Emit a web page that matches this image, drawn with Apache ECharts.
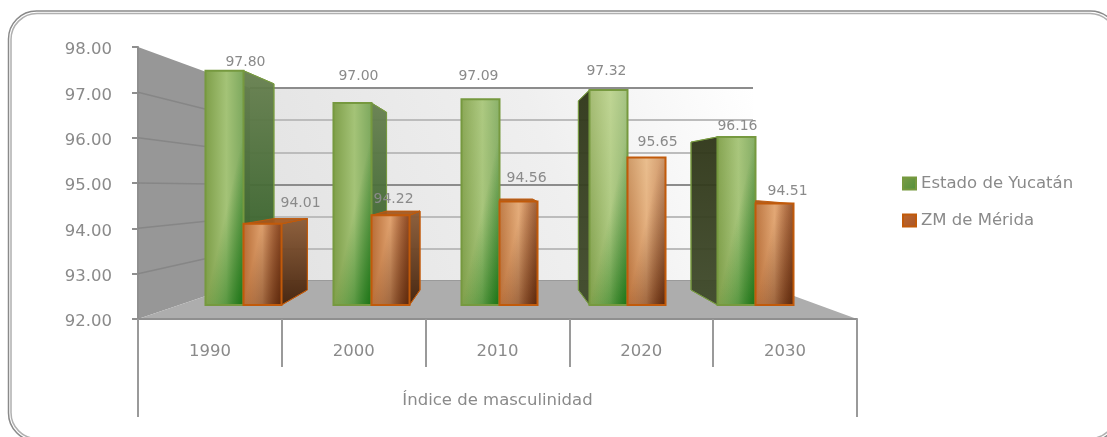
<!DOCTYPE html>
<html>
<head>
  <meta charset="UTF-8">
  <title>Índice de masculinidad</title>
  <style type="text/css">
    *{margin:0;padding:0;box-sizing:border-box;}
    html,body{width:100%;height:100%;background:#fff;overflow:hidden;}
    #main{width:1107px;height:437px;}
  </style>
  <script type="text/javascript" src="https://cdn.jsdelivr.net/npm/echarts@6/dist/echarts.min.js"></script>
</head>
<body>
  <div id="main"></div>
  <script type="text/javascript">
    var categories = ['1990', '2000', '2010', '2020', '2030'];
    var groupLabel = ['Índice de masculinidad'];
    var yucatan = [97.80, 97.00, 97.09, 97.32, 96.16];
    var merida = [94.01, 94.22, 94.56, 95.65, 94.51];
    var yMin = 92, yMax = 98;

    // labels were moved by hand in the original, so each has its own nudge (from bar top centre)
    var yucatanNudge = [[21, -8], [6, -27], [-2, -23], [-2, -19], [1, -11]];
    var meridaNudge = [[38, -20], [3, -16], [8, -23], [11, -15], [13, -12]];
    // bars get lighter towards 2020 in the original
    var sheen = [0, 0, 0.1, 0.3, 0.06];

    var textColor = '#8a8a8a';
    var fontName = '"DejaVu Sans", sans-serif';

    // vanishing point and depth of the fake 3D boxes
    var vx = 497, vy = 180, depth = 0.88;
    function back(p){
      return [vx + (p[0] - vx) * depth, vy + (p[1] - vy) * depth];
    }
    function grad(x, y, x2, y2, stops, global){
      return new echarts.graphic.LinearGradient(x, y, x2, y2, stops.map(function(s){
        return {offset: s[0], color: s[1]};
      }), global);
    }

    var styles = [
      {
        base: grad(0, 0, 1, 0, [[0, '#7f9f4a'], [0.55, '#a4c377'], [1, '#7da85e']]),
        shade: [[0, 'rgba(25,115,20,0)'], [1, 'rgba(25,115,20,1)']],
        stroke: '#76993f',
        right: grad(0, 0, 0, 1, [[0, '#667f4e'], [1, '#27581f']]),
        left: grad(0, 0, 0, 1, [[0, '#2e3517'], [1, '#404b2b']]),
        top: '#8aa85c',
        legend: grad(0, 0, 1, 1, [[0, '#7d9c47'], [1, '#4f8f3a']])
      },
      {
        base: grad(0, 0, 1, 0, [[0, '#b86e38'], [0.5, '#e0a26f'], [1, '#b8683a']]),
        shade: [[0, 'rgba(85,35,8,0)'], [1, 'rgba(85,35,8,0.95)']],
        stroke: '#c15a0a',
        right: grad(0, 0, 0, 1, [[0, '#8a5a35'], [1, '#43210a']]),
        left: grad(0, 0, 0, 1, [[0, '#8a5a35'], [1, '#43210a']]),
        top: '#a4581f',
        legend: grad(0, 0, 1, 1, [[0, '#c0682a'], [1, '#a8552a']])
      }
    ];

    function boxRenderer(seriesIndex, nudges){
      var st = styles[seriesIndex];
      return function(params, api){
        var idx = api.value(0);
        var base = api.coord([idx, yMin]);
        var top = api.coord([idx, api.value(1)]);
        var w = api.size([1, 0])[0] * 0.297;
        var x0 = seriesIndex === 0 ? base[0] - w : base[0];
        var x1 = x0 + w;
        var h = base[1] - top[1];
        var tl = [x0, top[1]], tr = [x1, top[1]], bl = [x0, base[1]], br = [x1, base[1]];
        var kids = [];
        function face(points, fill){
          kids.push({type: 'polygon', shape: {points: points},
            style: {fill: fill, stroke: st.stroke, lineWidth: 1, opacity: 0.95}});
        }
        function cover(fill, lineWidth){
          kids.push({type: 'rect', shape: {x: x0, y: top[1], width: w, height: h},
            style: {fill: fill, stroke: lineWidth ? st.stroke : 'none', lineWidth: lineWidth}});
        }
        if(x1 < vx){
          face([tr, back(tr), back(br), br], st.right);
        }
        if(seriesIndex === 0 && x0 > vx){
          face([tl, back(tl), back(bl), bl], st.left);
        }
        if(top[1] > vy){
          // the green neighbour hides whatever lies behind the left edge
          var bl2 = back(tl);
          if(seriesIndex === 1 && x0 > vx){
            bl2 = [x0, bl2[1]];
          }
          face([tl, tr, back(tr), bl2], st.top);
        }
        cover(st.base, 0);
        // dark corner at the bottom right, running up along the right edge
        var sx = x0, ex = x1 + w * 0.02, dy = 0.22;
        var len = (ex - sx) / (1 + dy * dy);
        cover(grad(sx, base[1], sx + len, base[1] + len * dy, st.shade, true), 0);
        if(sheen[idx]){
          cover(grad(0, 0, 0, 1, [[0, 'rgba(255,255,215,' + sheen[idx] + ')'], [1, 'rgba(255,255,215,0)']]), 0);
        }
        cover('none', 2);
        var n = nudges[idx];
        kids.push({type: 'text', z2: 10, style: {
          text: api.value(1).toFixed(2),
          x: (x0 + x1) / 2 + n[0], y: top[1] + n[1],
          align: 'center', verticalAlign: 'middle',
          fill: textColor, font: '14px ' + fontName
        }});
        return {type: 'group', children: kids};
      };
    }

    var myChart = echarts.init(document.getElementById('main'));
    var option = {
      animation: false,
      backgroundColor: '#fff',
      legend: {
        data: ['Estado de Yucatán', 'ZM de Mérida'],
        orient: 'vertical',
        left: 902,
        top: 175,
        padding: 0,
        icon: 'rect',
        itemWidth: 13,
        itemHeight: 12,
        itemGap: 20,
        selectedMode: false,
        textStyle: {color: textColor, fontSize: 16.5, fontFamily: fontName}
      },
      grid: [
        {left: 138, top: 47, width: 719, height: 272},                 // front frame with the axes
        {left: 250, top: 88, width: 503, height: 193, show: true, borderWidth: 0,
         backgroundColor: grad(0, 1, 1, 0, [[0, '#e2e2e2'], [0.6, '#efefef'], [1, '#ffffff']])}, // back wall
        {left: 179.5, top: 62.6, width: 640, height: 242.4}            // plane of the bars
      ],
      xAxis: [
        {gridIndex: 0, type: 'category', data: categories,
         axisLine: {lineStyle: {color: '#8f8f8f', width: 2}},
         axisTick: {show: true, alignWithLabel: false, length: 48, lineStyle: {color: '#9a9a9a', width: 2}},
         axisLabel: {color: textColor, fontSize: 16.5, fontFamily: fontName, margin: 24}},
        {gridIndex: 0, type: 'category', data: groupLabel, position: 'bottom',
         axisLine: {show: false},
         axisTick: {show: true, length: 98, lineStyle: {color: '#9a9a9a', width: 2}},
         axisLabel: {color: textColor, fontSize: 16.5, fontFamily: fontName, margin: 73}},
        {gridIndex: 1, type: 'category', data: categories, show: false},
        {gridIndex: 2, type: 'category', data: categories, show: false}
      ],
      yAxis: [
        {gridIndex: 0, type: 'value', min: yMin, max: yMax, interval: 1,
         axisLine: {show: true, lineStyle: {color: '#8f8f8f', width: 2}},
         axisTick: {show: true, length: 6, lineStyle: {color: '#8f8f8f', width: 2}},
         axisLabel: {color: textColor, fontSize: 16.5, fontFamily: fontName, margin: 26,
           verticalAlign: 'top', lineHeight: 6,
           formatter: function(v){ return v.toFixed(2); }},
         splitLine: {show: false}},
        {gridIndex: 1, type: 'value', min: yMin, max: yMax, interval: 1,
         axisLine: {show: false}, axisTick: {show: false}, axisLabel: {show: false},
         splitLine: {show: true, lineStyle: {width: 2,
           color: ['#9a9a9a', '#bcbcbc', '#bcbcbc', '#8c8c8c', '#bcbcbc', '#bcbcbc', '#8c8c8c']}}},
        {gridIndex: 2, type: 'value', min: yMin, max: yMax, show: false, splitLine: {show: false}}
      ],
      series: [
        {name: 'Estado de Yucatán', type: 'custom', xAxisIndex: 3, yAxisIndex: 2, clip: false, z: 3,
         itemStyle: {color: styles[0].legend, borderColor: styles[0].stroke, borderWidth: 1},
         renderItem: boxRenderer(0, yucatanNudge),
         data: yucatan.map(function(v, i){ return [i, v]; })},
        {name: 'ZM de Mérida', type: 'custom', xAxisIndex: 3, yAxisIndex: 2, clip: false, z: 4,
         itemStyle: {color: styles[1].legend, borderColor: styles[1].stroke, borderWidth: 1},
         renderItem: boxRenderer(1, meridaNudge),
         data: merida.map(function(v, i){ return [i, v]; })}
      ]
    };
    myChart.setOption(option);

    // side wall, floor and the outer frame hang off the grids already laid out
    function wallPoint(gridIndex, yAxisIndex, xFrac, v){
      var y = myChart.convertToPixel({yAxisIndex: yAxisIndex}, v);
      var rect = myChart.getModel().getComponent('grid', gridIndex).coordinateSystem.getRect();
      return [rect.x + rect.width * xFrac, y];
    }
    var wallItems = [];
    var fTop = wallPoint(0, 0, 0, yMax), fBot = wallPoint(0, 0, 0, yMin), fBotR = wallPoint(0, 0, 1, yMin);
    var bTop = wallPoint(1, 1, 0, yMax), bBot = wallPoint(1, 1, 0, yMin), bBotR = wallPoint(1, 1, 1, yMin);
    wallItems.push({type: 'polygon', shape: {points: [fTop, bTop, bBot, fBot]},
      style: {fill: '#979797'}, z: 0});
    wallItems.push({type: 'polygon', shape: {points: [fBot, fBotR, bBotR, bBot]},
      style: {fill: '#adadad'}, z: 0});
    for(var v = yMin + 1; v < yMax; v++){
      wallItems.push({type: 'line', z: 1,
        shape: {x1: fBot[0], y1: myChart.convertToPixel({yAxisIndex: 0}, v),
                x2: bBot[0], y2: myChart.convertToPixel({yAxisIndex: 1}, v)},
        style: {stroke: '#868686', lineWidth: 1.5}});
    }
    // frame runs off the right and bottom of the picture
    wallItems.push({type: 'rect', z: 0, shape: {x: 8.5, y: 11, width: 1110, height: 430, r: 28},
      style: {fill: 'none', stroke: '#8a8a8a', lineWidth: 1.5}});
    wallItems.push({type: 'rect', z: 0, shape: {x: 11, y: 13.5, width: 1105, height: 425, r: 26},
      style: {fill: 'none', stroke: '#b0b0b0', lineWidth: 1.5}});
    myChart.setOption({graphic: {elements: wallItems}});
  </script>
</body>
</html>
